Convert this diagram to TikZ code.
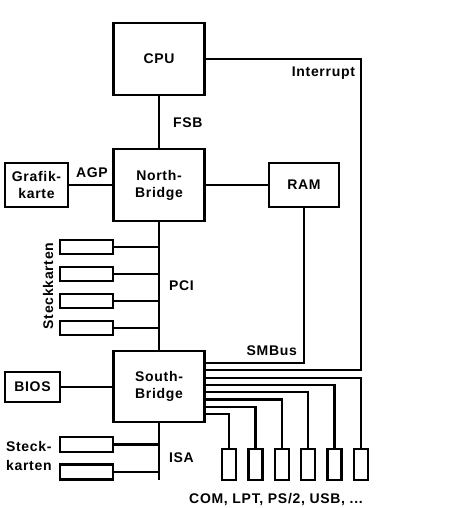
\documentclass[tikz,border=0pt]{standalone}
\usepackage{fontspec}
\setmainfont{Liberation Sans}[LetterSpace=5]
\usetikzlibrary{positioning}
\begin{document}
\begin{tikzpicture}[x=1pt,y=-1pt,line width=2.1pt, every node/.style={font=\fontsize{14}{17}\selectfont\bfseries}, box/.style={draw,align=center,inner sep=0pt}, chip/.style={box,minimum width=91pt,minimum height=72pt}, slot/.style={draw,minimum width=53pt,minimum height=14pt,inner sep=0pt}, port/.style={draw,minimum width=14pt,minimum height=31pt,inner sep=0pt}, lbl/.style={anchor=base,inner sep=0pt}]
\useasboundingbox (0,0) rectangle (450,508);
\node[chip] (cpu) at (159,59) {CPU};
\node[chip] (nb) at (159,185) {North-\\Bridge};
\node[chip,minimum height=71pt] (sb) at (159,386.5) {South-\\Bridge};
\node[box,minimum width=63pt,minimum height=44pt] (gfx) at (36.5,185) {Grafik-\\karte};
\node[box,minimum width=70pt,minimum height=44pt] (ram) at (304,185) {RAM};
\node[box,minimum width=55pt,minimum height=30pt] (bios) at (32.5,387) {BIOS};
\foreach \i/\y in {1/247,2/274,3/301,4/328} \node[slot] (pci\i) at (86.5,\y) {};
\foreach \i/\y in {1/444.5,2/472} \node[slot,minimum height=15pt] (isa\i) at (86.5,\y) {};
\foreach \i/\x in {1/229,2/255.5,3/282,4/308,5/334.5,6/361} \node[port] (port\i) at (\x,464.5) {};
\coordinate (isaend) at (159,480);
\coordinate (irq) at ([yshift=52.8pt]sb.south east);
\coordinate (smb) at ([yshift=60.1pt]sb.south east);
\node[lbl,anchor=base east] (irqlbl) at (356,77) {Interrupt};
\node[lbl,anchor=base west] (fsb) at (172,128) {FSB};
\node[lbl,anchor=base west] (agp) at (75,177) {AGP};
\node[lbl,anchor=base west] (pci) at (168,290) {PCI};
\node[lbl,anchor=base east] (smbus) at (298,355) {SMBus};
\node[lbl,anchor=base west] (isa) at (168,462) {ISA};
\node[lbl,rotate=90] (pcicards) at (53,286) {Steckkarten};
\node[lbl,anchor=base west] (steck) at (5,451.7) {Steck-};
\node[lbl,anchor=base west] (karten) at (5,470) {karten};
\node[lbl] (ports) at (276,503) {COM, LPT, PS/2, USB, ...};
\draw (cpu)--(nb);\draw (gfx)--(nb);\draw (nb)--(ram);\draw (nb)--(sb);\draw (bios)--(bios-|sb.west);\draw (sb.south)--(isaend);
\foreach \i in {1,...,4} \draw (pci\i.east)--(pci\i.east-|nb.south);
\foreach \i in {1,2} \draw (isa\i.east)--(isa\i.east-|sb.south);
\foreach \k [evaluate=\k as \dy using 9+7.3*(\k-1)] in {1,...,6} \draw ([yshift=\dy pt]sb.south east)-|(port\k.north);
\draw (cpu.east)-|(port6.north|-irq)--(irq);\draw (ram.south)|-(smb);
\end{tikzpicture}
\end{document}
